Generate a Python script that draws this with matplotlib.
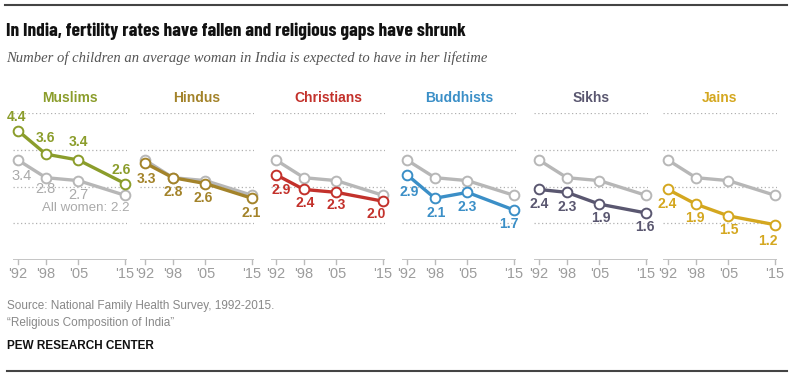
import matplotlib
matplotlib.use("Agg")
import matplotlib.pyplot as plt
from matplotlib.lines import Line2D

years = [1992, 1998, 2005, 2015]
year_labels = ["'92", "'98", "'05", "'15"]

groups = ["Muslims", "Hindus", "Christians", "Buddhists", "Sikhs", "Jains"]
all_women = [3.4, 2.8, 2.7, 2.2]
muslims = [4.4, 3.6, 3.4, 2.6]
hindus = [3.3, 2.8, 2.6, 2.1]
christians = [2.9, 2.4, 2.3, 2.0]
buddhists = [2.9, 2.1, 2.3, 1.7]
sikhs = [2.4, 2.3, 1.9, 1.6]
jains = [2.4, 1.9, 1.5, 1.2]

colors = ["#8b9d2b", "#a3832a", "#c3312b", "#3b8fc7", "#5a5770", "#d4a71f"]
gray = "#b7b7b7"

# label offsets in pixels (dx, dy) for each group's points
offsets = [
    [(-1, 14), (0, 16), (0, 18), (-4, 14)],
    [(1, -16), (0, -14), (-2, -14), (-1, -15)],
    [(5, -15), (1, -14), (0, -13), (-7, -13)],
    [(2, -17), (1, -15), (0, -15), (-5, -14)],
    [(0, -15), (0, -15), (1, -14), (-1, -14)],
    [(-1, -15), (-1, -14), (0, -14), (-7, -16)],
]
gray_offsets = [(4, -16), (-1, -11), (0, -14)]

LABEL_FONT = "Liberation Sans"
TITLE_FONT = ["Barlow Condensed", "DejaVu Sans"]

W, H = 792, 380
fig = plt.figure(figsize=(W / 100, H / 100), dpi=100)

series = [muslims, hindus, christians, buddhists, sikhs, jains]
lefts = [13, 140, 271, 402, 534, 663]
ax_w = 114
ax_bottom, ax_top = 260, 113

for i, (name, vals) in enumerate(zip(groups, series)):
    ax = fig.add_axes([lefts[i] / W, (H - ax_bottom) / H, ax_w / W, (ax_bottom - ax_top) / H])
    ax.set_xlim(1990.93, 2015.43)
    ax.set_ylim(0, 5)
    for s in ax.spines.values():
        s.set_visible(False)
    ax.set_xticks([])
    ax.set_yticks([])
    ax.patch.set_alpha(0)

    for g in [1.25, 2.5, 3.75, 5]:
        ax.axhline(g, color="#b0b0b0", lw=0.9, ls=(0, (1, 2)), zorder=1)
    ax.axhline(0, color="#bbbbbb", lw=1.2, zorder=1)
    for x, lab in zip(years, year_labels):
        ax.plot([x, x], [0, -0.12], color="#bbbbbb", lw=1, clip_on=False)
        ax.annotate(lab, (x, 0), xytext=(0, -14), textcoords="offset pixels",
                    ha="center", va="center", fontsize=10.5, color="#9c9c9c",
                    family=LABEL_FONT)

    ax.plot(years, all_women, color=gray, lw=2.4, marker="o", ms=7,
            mfc="white", mec=gray, mew=1.4, clip_on=False, zorder=3)
    ax.plot(years, vals, color=colors[i], lw=2.4, marker="o", ms=7,
            mfc="white", mec=colors[i], mew=1.4, clip_on=False, zorder=4)

    for x, v, (dx, dy) in zip(years, vals, offsets[i]):
        ax.annotate(f"{v:.1f}", (x, v), xytext=(dx, dy), textcoords="offset pixels",
                    ha="center", va="center", fontsize=10, fontweight="bold",
                    color=colors[i], family=LABEL_FONT, zorder=5)

    if i == 0:
        for x, v, (dx, dy) in zip(years[:3], all_women[:3], gray_offsets):
            ax.annotate(f"{v:.1f}", (x, v), xytext=(dx, dy), textcoords="offset pixels",
                        ha="center", va="center", fontsize=10.5, color="#aaaaaa",
                        family=LABEL_FONT)
        ax.annotate(f"All women: {all_women[-1]:.1f}", (years[-1], all_women[-1]),
                    xytext=(5, -13), textcoords="offset pixels", ha="right",
                    va="center", fontsize=9.6, color="#aaaaaa", family=LABEL_FONT)

    ax.text(0.5, (H - 98 - (H - ax_bottom)) / (ax_bottom - ax_top), name,
            transform=ax.transAxes, ha="center", va="center", fontsize=10,
            fontweight="bold", color=colors[i], family=LABEL_FONT)

# frame lines
fig.add_artist(Line2D([5 / W, 787 / W], [1 - 5 / H, 1 - 5 / H], color="#444444", lw=1.5))
fig.add_artist(Line2D([7 / W, 787 / W], [1 - 371 / H, 1 - 371 / H], color="#444444", lw=1.5))

fig.text(6 / W, 1 - 31 / H, "In India, fertility rates have fallen and religious gaps have shrunk",
         ha="left", va="center", fontsize=14, fontweight="bold", color="#111111",
         family=TITLE_FONT)
fig.text(6 / W, 1 - 58 / H, "Number of children an average woman in India is expected to have in her lifetime",
         ha="left", va="center", fontsize=10.5, style="italic", color="#555555",
         family="Liberation Serif")
fig.text(7 / W, 1 - 306 / H, "Source: National Family Health Survey, 1992-2015.",
         ha="left", va="center", fontsize=8.5, color="#888888", family=LABEL_FONT)
fig.text(7 / W, 1 - 323 / H, "\u201cReligious Composition of India\u201d",
         ha="left", va="center", fontsize=8.5, color="#888888", family=LABEL_FONT)
fig.text(7 / W, 1 - 346 / H, "PEW RESEARCH CENTER",
         ha="left", va="center", fontsize=8.5, fontweight="bold", color="#111111",
         family=LABEL_FONT)

fig.savefig("out.png", dpi=100)
